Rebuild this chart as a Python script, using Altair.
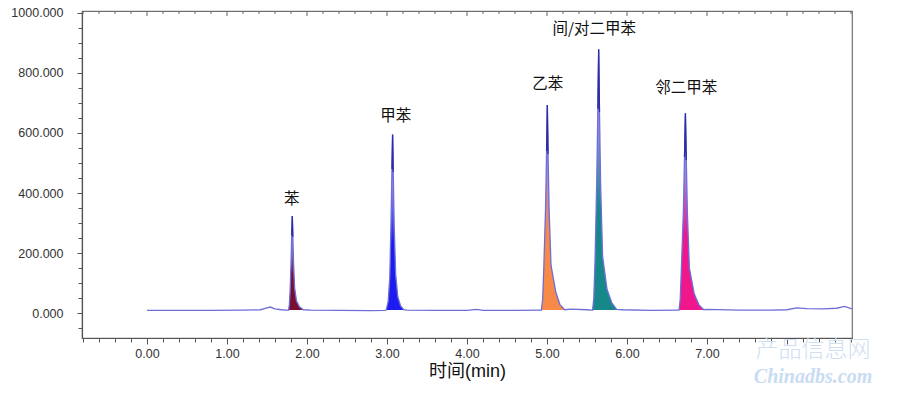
import altair as alt
import pandas as pd

# ---------------- data ----------------
peak_names = ["苯", "甲苯", "乙苯", "间/对二甲苯", "邻二甲苯"]
peak_colors = ["#7a1030", "#1c1cf0", "#f78a48", "#16888a", "#f0168c"]
label_t = [1.81, 3.11, 5.01, 5.59, 6.74]
label_v = [380, 656, 763, 946, 749]

bz_t = [1.770, 1.780, 1.790, 1.800, 1.809, 1.816, 1.823, 1.832, 1.845, 1.868, 1.905, 1.955]
bz_v = [11, 30, 80, 165, 260, 324, 255, 165, 85, 42, 22, 12]
tol_t = [2.990, 3.015, 3.035, 3.050, 3.062, 3.070, 3.078, 3.090, 3.108, 3.135, 3.170, 3.210]
tol_v = [11, 40, 120, 300, 480, 595, 470, 290, 130, 55, 25, 12]
eb_t = [4.930, 4.945, 4.960, 4.982, 4.995, 5.004, 5.013, 5.027, 5.050, 5.110, 5.160, 5.220]
eb_v = [11, 45, 150, 350, 540, 693, 530, 340, 160, 70, 30, 12]
mp_t = [5.570, 5.585, 5.600, 5.622, 5.636, 5.646, 5.656, 5.670, 5.695, 5.750, 5.810, 5.870]
mp_v = [11, 50, 170, 440, 680, 878, 670, 430, 190, 80, 35, 13]
ox_t = [6.650, 6.665, 6.680, 6.705, 6.719, 6.730, 6.741, 6.755, 6.780, 6.840, 6.900, 6.960]
ox_v = [11, 45, 150, 340, 520, 665, 510, 330, 150, 65, 28, 12]

base_t = [0.00, 0.40, 0.80, 1.20, 1.42, 1.50, 1.54, 1.60, 1.68, 1.74, 2.05, 2.40, 2.80,
          2.97, 3.25, 3.60, 4.00, 4.12, 4.20, 4.60, 4.90, 5.30, 5.50, 5.55, 5.95, 6.30,
          6.62, 7.00, 7.40, 7.80, 8.00, 8.12, 8.25, 8.45, 8.62, 8.72, 8.81]
base_v = [10, 10, 10, 11, 12, 18, 21, 15, 12, 11, 11, 10, 9,
          10, 11, 10, 10, 13, 10, 10, 11, 14, 12, 11, 12, 10,
          11, 13, 11, 11, 12, 18, 16, 15, 17, 23, 15]
baseline_level = 11

x_ticks = [round(-0.8 + 0.2 * i, 1) for i in range(49)]
y_ticks = list(range(-50, 1001, 50))

watermark = ["产品信息网", "Chinadbs.com"]

peak_t = [bz_t, tol_t, eb_t, mp_t, ox_t]
peak_v = [bz_v, tol_v, eb_v, mp_v, ox_v]

# ---------------- tables ----------------
trace = pd.DataFrame({
    "t": base_t + sum(peak_t, []),
    "v": base_v + sum(peak_v, []),
}).sort_values("t")

PLOT_H = 327
x_dom = [-0.8125, 8.8125]
y_dom = [-82, 1005.5]

major_x = "abs(datum.value - round(datum.value)) < 0.01"

x_scale = alt.Scale(domain=x_dom, nice=False, zero=False)
x_enc = alt.X("t:Q", scale=x_scale,
              axis=alt.Axis(values=x_ticks, title="时间(min)",
                            labelExpr=major_x + " && datum.value > -0.1 && datum.value < 7.5 ? format(datum.value, '.2f') : ''",
                            tickSize={"condition": {"test": major_x, "value": 6}, "value": 4},
                            labelOverlap=False, labelFlush=False, labelPadding=3,
                            titlePadding=3, titleFontSize=18, titleFontWeight="normal",
                            titleColor="#111", titleFont="Liberation Sans, Noto Sans CJK SC"))
y_enc = alt.Y("v:Q", scale=alt.Scale(domain=y_dom, nice=False, zero=False),
              axis=alt.Axis(values=y_ticks, title=None,
                            labelExpr="datum.value % 200 === 0 && datum.value >= 0 ? format(datum.value, '.3f') : ''",
                            tickSize={"condition": {"test": "datum.value % 200 === 0", "value": 5}, "value": 4},
                            labelOverlap=False, labelPadding=14))

layers = []
for name, col, ts, vs in zip(peak_names, peak_colors, peak_t, peak_v):
    df = pd.DataFrame({"t": ts, "v": vs, "b": [baseline_level] * len(ts)})
    grad = alt.Gradient(gradient="linear", x1=0, x2=0, y1=1, y2=0,
                        stops=[alt.GradientStop(color=col, offset=0),
                               alt.GradientStop(color=col, offset=0.38),
                               alt.GradientStop(color="#a090e2", offset=0.72),
                               alt.GradientStop(color="#7474e0", offset=1)])
    layers.append(alt.Chart(df).mark_area(color=grad, opacity=1, interpolate="linear")
                  .encode(x=x_enc, y=y_enc, y2="b:Q"))

line = alt.Chart(trace).mark_line(color="#6e6ed8", strokeWidth=1.3).encode(x=x_enc, y=y_enc)
layers.append(line)

# darker tips
tips = []
for ts, vs in zip(peak_t, peak_v):
    top = max(vs)
    for t_, v_ in zip(ts, vs):
        if v_ >= 0.75 * top:
            tips.append({"t": t_, "v": v_, "g": top})
tip_df = pd.DataFrame(tips)
layers.append(alt.Chart(tip_df).mark_line(color="#2c2ca8", strokeWidth=1.3)
              .encode(x=x_enc, y=y_enc, detail="g:N"))

labels_df = pd.DataFrame({"t": label_t, "v": label_v, "name": peak_names})
layers.append(alt.Chart(labels_df).mark_text(font="Noto Sans CJK SC", fontSize=15.5,
                                             color="#111", baseline="middle")
              .encode(x=x_enc, y=y_enc, text="name:N"))

# inward ticks along the top frame
major_ticks = pd.DataFrame({"t": [t for t in x_ticks if abs(t - round(t)) < 0.01]})
minor_ticks = pd.DataFrame({"t": [t for t in x_ticks if abs(t - round(t)) >= 0.01]})
for tdf, ln in ((major_ticks, 5), (minor_ticks, 3)):
    layers.append(alt.Chart(tdf).mark_rule(color="#666", strokeWidth=1).encode(
        x=x_enc, y=alt.value(0), y2=alt.value(ln)))

wm_df = pd.DataFrame({"txt": watermark, "px": [731, 731], "py": [339, 376]})
wm1 = alt.Chart(wm_df.iloc[[0]]).mark_text(font="Noto Sans CJK SC", fontSize=23,
                                           color="#cfe0f2", fontWeight=300,
                                           baseline="middle").encode(
    x=alt.X("px:Q", scale=None), y=alt.Y("py:Q", scale=None), text="txt:N")
wm2 = alt.Chart(wm_df.iloc[[1]]).mark_text(font="Liberation Serif", fontSize=20,
                                           color="#c8dcf2", fontStyle="italic",
                                           fontWeight="bold", baseline="bottom").encode(
    x=alt.X("px:Q", scale=None), y=alt.Y("py:Q", scale=None), text="txt:N")

chart = alt.layer(*layers, wm1, wm2).properties(
    width=770, height=PLOT_H,
    autosize=alt.AutoSizeParams(type="none"),
    padding={"left": 74, "top": 3, "right": 40, "bottom": 49},
).configure_view(stroke="#707070", strokeWidth=1.2).configure_axis(
    grid=False, domainColor="#555", tickColor="#555", labelColor="#333",
    labelFont="Liberation Sans", labelFontSize=12.5, domainWidth=1.2,
)

chart.save("out.html", embed_options={"renderer": "svg", "actions": False})
